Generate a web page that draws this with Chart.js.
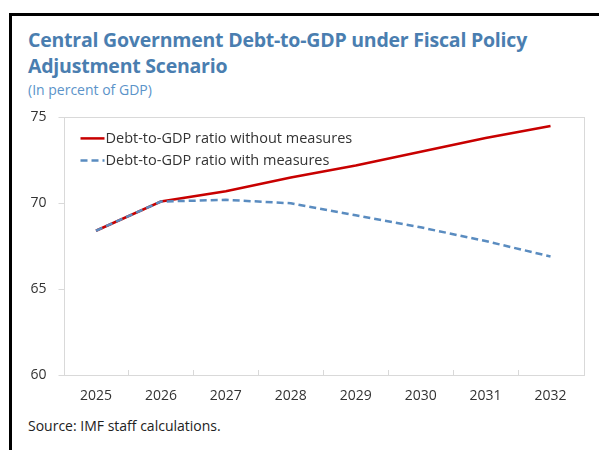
<!DOCTYPE html>
<html>
<head>
<meta charset="utf-8">
<script src="https://cdn.jsdelivr.net/npm/chart.js@4/dist/chart.umd.min.js"></script>
<style>
  body { margin: 0; background: #fff; width: 599px; height: 450px; overflow: hidden; position: relative; font-family: "Open Sans", "Noto Sans", sans-serif; }
  .frame { position: absolute; left: 9px; top: 13px; width: 620px; height: 460px; border-top: 3px solid #000; border-left: 3px solid #000; }
  .title { position: absolute; left: 28px; top: 27px; color: #4a7eb0; font-weight: 700; font-size: 19.5px; line-height: 26px; letter-spacing: -0.22px; }
  .subtitle { position: absolute; left: 28px; top: 80px; color: #5b93c9; font-size: 14px; }
  .source { position: absolute; left: 28px; top: 416px; color: #222; font-size: 14px; }
  .wrap { position: absolute; left: 12px; top: 97px; width: 585px; height: 310px; }
</style>
</head>
<body>
<div class="frame"></div>
<div class="title">Central Government Debt-to-GDP under Fiscal Policy<br>Adjustment Scenario</div>
<div class="subtitle">(In percent of GDP)</div>
<div class="wrap"><canvas id="debtChart"></canvas></div>
<div class="source">Source: IMF staff calculations.</div>
<script>
// years and projections, percent of GDP
const years = ["2025", "2026", "2027", "2028", "2029", "2030", "2031", "2032"];
const withoutMeasures = [68.4, 70.1, 70.7, 71.5, 72.2, 73.0, 73.8, 74.5];
const withMeasures = [68.4, 70.1, 70.2, 70.0, 69.3, 68.6, 67.8, 66.9];
const yTicks = [60, 65, 70, 75];

const RED = "#c80000";
const BLUE = "#5a8cc0";

// gray box round the plot, small ticks at category edges, legend inside the plot
const plotBox = {
  id: "plotBox",
  afterDraw(chart) {
    const ctx = chart.ctx;
    const a = chart.chartArea;
    const x = chart.scales.x;
    ctx.save();
    ctx.strokeStyle = "#d9d9d9";
    ctx.lineWidth = 1;
    ctx.strokeRect(Math.round(a.left) + 0.5, Math.round(a.top) + 0.5, Math.round(a.right - a.left), Math.round(a.bottom - a.top));
    ctx.beginPath();
    for (let i = 1; i < years.length; i++) {
      const px = Math.round((x.getPixelForValue(i - 1) + x.getPixelForValue(i)) / 2) + 0.5;
      ctx.moveTo(px, a.bottom);
      ctx.lineTo(px, a.bottom - 5);
    }
    ctx.stroke();

    // legend
    const items = [chart.data.datasets[0], chart.data.datasets[1]];
    ctx.font = "14.5px 'Open Sans', 'Noto Sans', sans-serif";
    ctx.textBaseline = "middle";
    items.forEach((ds, i) => {
      const ly = a.top + 21 + i * 22;
      const lx = a.left + 17;
      ctx.strokeStyle = ds.borderColor;
      ctx.lineWidth = 2.5;
      ctx.setLineDash(ds.borderDash || []);
      ctx.beginPath();
      ctx.moveTo(lx, ly);
      ctx.lineTo(lx + 24, ly);
      ctx.stroke();
      ctx.setLineDash([]);
      ctx.fillStyle = "#333";
      ctx.fillText(ds.label, lx + 25, ly);
    });
    ctx.restore();
  }
};

new Chart(document.getElementById("debtChart"), {
  type: "line",
  data: {
    labels: years,
    datasets: [
      {
        label: "Debt-to-GDP ratio without measures",
        data: withoutMeasures,
        borderColor: RED,
        borderWidth: 2.5,
        pointRadius: 0,
        tension: 0,
        order: 2
      },
      {
        label: "Debt-to-GDP ratio with measures",
        data: withMeasures,
        borderColor: BLUE,
        borderWidth: 2.5,
        borderDash: [7, 4],
        pointRadius: 0,
        tension: 0,
        order: 1
      }
    ]
  },
  options: {
    responsive: true,
    maintainAspectRatio: false,
    animation: false,
    layout: { padding: { top: 10, right: 14, left: 0, bottom: 0 } },
    plugins: {
      legend: { display: false },
      tooltip: { enabled: false }
    },
    scales: {
      x: {
        offset: true,
        grid: { display: false },
        border: { display: false },
        ticks: { color: "#333", padding: 5, font: { size: 14, family: "'Open Sans', 'Noto Sans', sans-serif" } },
        afterFit(s) { s.height = 32; }
      },
      y: {
        min: 60,
        max: 75,
        afterBuildTicks(s) { s.ticks = yTicks.map(v => ({ value: v })); },
        grid: { drawOnChartArea: false, drawTicks: true, tickLength: 5, color: "#d9d9d9" },
        border: { display: false },
        ticks: { color: "#333", padding: 12, font: { size: 14, family: "'Open Sans', 'Noto Sans', sans-serif" } },
        afterFit(s) { s.width = 51.5; }
      }
    }
  },
  plugins: [plotBox]
});
</script>
</body>
</html>
